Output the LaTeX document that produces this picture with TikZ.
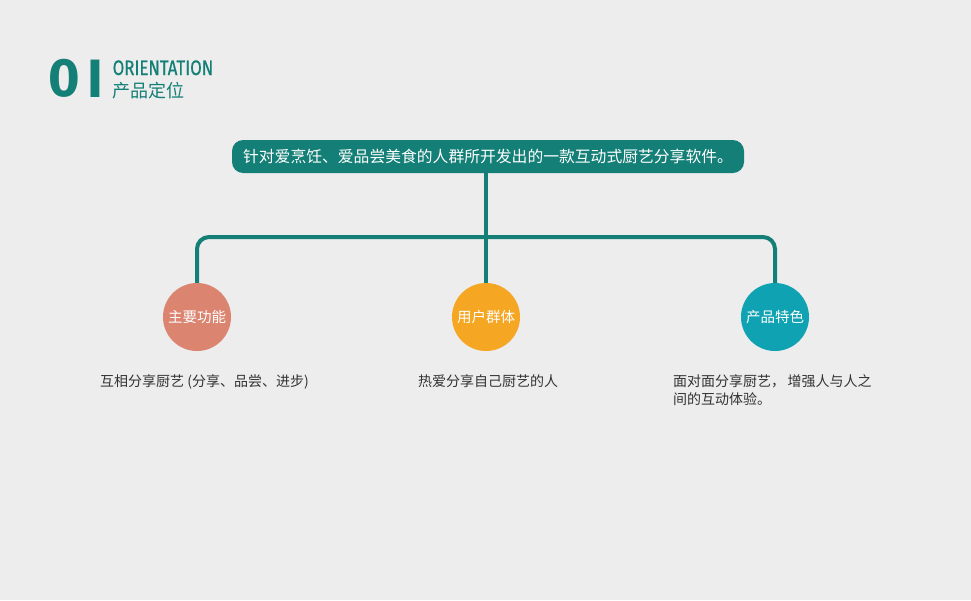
\documentclass[tikz,border=0pt]{standalone}
\usepackage{fontspec}
\setmainfont{Noto Sans CJK SC}
\newfontfamily\headfont[FakeStretch=0.8,FakeBold=0.6]{Fira Sans}
\newfontfamily\numfont{Fira Sans}
\usetikzlibrary{positioning}
\definecolor{paper}{HTML}{EDEDED}
\definecolor{teal}{HTML}{137F76}
\definecolor{salmon}{HTML}{DB8470}
\definecolor{amber}{HTML}{F5A623}
\definecolor{lagoon}{HTML}{0EA2B2}
\definecolor{ink}{HTML}{333333}

\begin{document}
\begin{tikzpicture}[x=1pt,y=-1pt,
  branch/.style={draw=teal,line width=4pt,rounded corners=12pt},
  topic/.style={circle,minimum size=68pt,inner sep=0pt,text=white,
    font=\fontsize{14.5}{16}\selectfont},
  note/.style={anchor=north west,text=ink,inner sep=0pt,align=left,
    font=\fontsize{14}{18}\selectfont}]
  \fill[paper] (0,0) rectangle (971,600);
  \useasboundingbox (0,0) rectangle (971,600);

  % heading
  \node[text=teal,font=\numfont\bfseries\fontsize{54}{54}\selectfont]
    (num) at (64,78.5) {0};
  \node[text=teal,font=\numfont\bfseries\fontsize{54}{54}\selectfont]
    (numbar) at (95,78.5) {I};
  \node[anchor=base west,inner sep=0pt,text=teal,
        font=\headfont\fontsize{21}{21}\selectfont] (eng)
    at (112.5,75) {ORIENTATION};
  \node[anchor=base west,inner sep=0pt,text=teal,
        font=\fontsize{18}{18}\selectfont] (chn) at (112.5,97) {产品定位};

  \node[fill=teal,rounded corners=11pt,text=white,minimum width=512pt,
        minimum height=33pt,inner sep=0pt,
        font=\fontsize{15.8}{16}\selectfont] (aim) at (488,156.5)
    {针对爱烹饪、爱品尝美食的人群所开发出的一款互动式厨艺分享软件。};

  \node[topic,fill=salmon] (func) at (197,317) {主要功能};
  \node[topic,fill=amber] (users) at (486,317) {用户群体};
  \node[topic,fill=lagoon] (feat) at (775,317) {产品特色};

  \coordinate (fork) at (486,237);
  \draw[branch] (func.north) |- (fork) -| (feat.north);
  \draw[branch] (aim.south -| users.north) -- (users.north);

  \node[note] (funcnote) at (100,374) {互相分享厨艺 (分享、品尝、进步)};
  \node[note] (usersnote) at (418,374) {热爱分享自己厨艺的人};
  \node[note] (featnote) at (673,374)
    {面对面分享厨艺，\,增强人与人之\\间的互动体验。};
\end{tikzpicture}
\end{document}
